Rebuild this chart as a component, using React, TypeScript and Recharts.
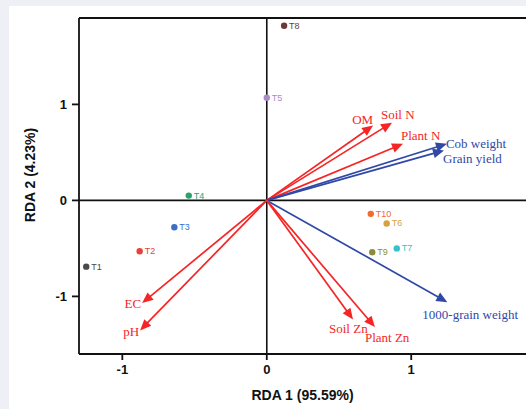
import { ScatterChart, Scatter, XAxis, YAxis, ReferenceLine, Label } from "recharts"

// site scores (treatments)
const treatments = ["T1", "T2", "T3", "T4", "T5", "T6", "T7", "T8", "T9", "T10"]
const rda1Scores = [-1.25, -0.88, -0.64, -0.54, 0.0, 0.83, 0.9, 0.12, 0.73, 0.72]
const rda2Scores = [-0.69, -0.53, -0.28, 0.05, 1.07, -0.24, -0.5, 1.82, -0.54, -0.14]

// variable loadings (arrows)
const variables = ["OM", "Soil N", "Plant N", "Cob weight", "Grain yield", "1000-grain weight", "Soil Zn", "Plant Zn", "EC", "pH"]
const varRda1 = [0.736, 0.867, 0.943, 1.247, 1.227, 1.25, 0.597, 0.749, -0.863, -0.877]
const varRda2 = [0.78, 0.81, 0.59, 0.59, 0.52, -1.06, -1.24, -1.32, -1.07, -1.354]

const xTicks = [-1, 0, 1]
const yTicks = [-1, 0, 1]

const pointColors = ["#4a4a4a", "#e8413c", "#3b6fc6", "#2aa36b", "#a98bc9", "#d6a13f", "#35c2cc", "#6b3b3b", "#8c8c3c", "#f26a2c"]

const RED = "#f52525"
const BLUE = "#3049a6"
const arrowColors = [RED, RED, RED, BLUE, BLUE, BLUE, RED, RED, RED, RED]
const labelPlace = [
  { anchor: "end", dx: 0, dy: -6 },
  { anchor: "start", dx: -11, dy: -8 },
  { anchor: "start", dx: -2, dy: -8 },
  { anchor: "start", dx: -1, dy: 0 },
  { anchor: "start", dx: -1, dy: 8 },
  { anchor: "start", dx: -25, dy: 12 },
  { anchor: "start", dx: -24, dy: 9 },
  { anchor: "start", dx: -10, dy: 10 },
  { anchor: "end", dx: -1, dy: 0 },
  { anchor: "end", dx: -1, dy: 1 },
]

const points = treatments.map((t, i) => ({ x: rda1Scores[i], y: rda2Scores[i], name: t, color: pointColors[i] }))

function Arrow(props: any) {
  const { x1, y1, x2, y2, color, name, place } = props
  const dx = x2 - x1
  const dy = y2 - y1
  const len = Math.hypot(dx, dy)
  const ux = dx / len
  const uy = dy / len
  const headLen = 11
  const headHalf = 4.8
  const bx = x2 - ux * headLen
  const by = y2 - uy * headLen
  const px = -uy
  const py = ux
  const pts = `${x2},${y2} ${bx + px * headHalf},${by + py * headHalf} ${bx - px * headHalf},${by - py * headHalf}`
  return (
    <g>
      <line x1={x1} y1={y1} x2={bx + ux * 2} y2={by + uy * 2} stroke={color} strokeWidth={1.7} />
      <polygon points={pts} fill={color} />
      <text
        x={x2 + place.dx}
        y={y2 + place.dy}
        textAnchor={place.anchor}
        dominantBaseline="central"
        fontFamily="Liberation Serif"
        fontSize={13}
        fill={color}
      >
        {name}
      </text>
    </g>
  )
}

function Dot(props: any) {
  const { cx, cy, payload } = props
  return (
    <g>
      <circle cx={cx} cy={cy} r={3.2} fill={payload.color} />
      <text x={cx + 5} y={cy} dominantBaseline="central" fontFamily="Liberation Sans" fontSize={9} fill={payload.color}>
        {payload.name}
      </text>
    </g>
  )
}

const tickStyle = { fill: "#111", fontSize: 13, fontWeight: "bold", fontFamily: "Liberation Sans" }

export default function App() {
  return (
    <div style={{ position: "absolute", left: 0, top: 0, width: 526, height: 409, overflow: "hidden", background: "#eef0f5" }}>
      <div style={{ position: "absolute", left: 9, top: 6, width: 517, height: 403, background: "#fff" }} />
      <div style={{ position: "absolute", left: 0, top: 0 }}>
        <ScatterChart width={545} height={409} margin={{ top: 18, right: 11, bottom: 5, left: 19 }}>
          <XAxis
            type="number"
            dataKey="x"
            domain={[-1.3, 1.85]}
            ticks={xTicks}
            allowDataOverflow
            height={50}
            stroke="#111"
            strokeWidth={1.8}
            tickSize={6}
            tickMargin={5}
            tick={tickStyle}
          >
            <Label
              content={({ viewBox }: any) => (
                <text
                  x={viewBox.x + viewBox.width / 2 - 4}
                  y={viewBox.y + 41}
                  textAnchor="middle"
                  dominantBaseline="central"
                  fontFamily="Liberation Sans"
                  fontWeight="bold"
                  fontSize={14}
                  fill="#111"
                >
                  RDA 1 (95.59%)
                </text>
              )}
            />
          </XAxis>
          <YAxis
            type="number"
            dataKey="y"
            domain={[-1.6, 1.9]}
            ticks={yTicks}
            allowDataOverflow
            width={60}
            stroke="#111"
            strokeWidth={1.8}
            tickSize={7}
            tickMargin={5}
            tick={tickStyle}
          >
            <Label
              content={({ viewBox }: any) => {
                const cx = viewBox.x + 11
                const cy = viewBox.y + viewBox.height / 2 - 11
                return (
                  <text
                    x={cx}
                    y={cy}
                    transform={`rotate(-90, ${cx}, ${cy})`}
                    textAnchor="middle"
                    dominantBaseline="central"
                    fontFamily="Liberation Sans"
                    fontWeight="bold"
                    fontSize={14}
                    fill="#111"
                  >
                    RDA 2 (4.23%)
                  </text>
                )
              }}
            />
          </YAxis>
          <ReferenceLine y={1.9} stroke="#111" strokeWidth={1.8} />
          <ReferenceLine x={0} stroke="#111" strokeWidth={1.6} />
          <ReferenceLine y={0} stroke="#111" strokeWidth={1.6} />
          {variables.map((v, i) => (
            <ReferenceLine
              key={v}
              segment={[
                { x: 0, y: 0 },
                { x: varRda1[i], y: varRda2[i] },
              ]}
              shape={(p: any) => <Arrow {...p} color={arrowColors[i]} name={v} place={labelPlace[i]} />}
            />
          ))}
          <Scatter data={points} shape={(p: any) => <Dot {...p} />} isAnimationActive={false} />
        </ScatterChart>
      </div>
    </div>
  )
}
